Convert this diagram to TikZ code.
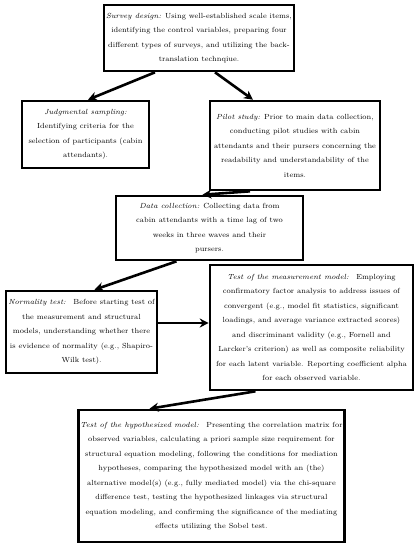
\documentclass[tikz,border=0pt]{standalone}
\usetikzlibrary{arrows.meta}

\begin{document}
\begin{tikzpicture}[x=1pt,y=-1pt,
    stagebox/.style={draw,line width=2.6pt,align=center,inner sep=2pt,
      font=\fontsize{7.4}{14.5}\selectfont},
    flowarrow/.style={-{Stealth[length=9pt,width=9pt]},line width=2.6pt}]

    \useasboundingbox (0,0) rectangle (415,550);

    % the seven stages
    \node [stagebox,minimum width=188,minimum height=66] (survey) at (199,38)
      {\textit{Survey design:} Using well-established scale items,\\
       identifying the control variables, preparing four\\
       different types of surveys, and utilizing the back-\\
       translation technqiue.};
    \node [stagebox,minimum width=127,minimum height=67] (judg) at (85.5,134.5)
      {\textit{Judgmental sampling:}\\
       Identifying criteria for the\\
       selection of participants (cabin\\
       attendants).};
    \node [stagebox,minimum width=170,minimum height=89] (pilot) at (295,145.5)
      {\textit{Pilot study:} Prior to main data collection,\\
       conducting pilot studies with cabin\\
       attendants and their pursers concerning the\\
       readability and understandability of the\\
       items.};
    \node [stagebox,minimum width=187,minimum height=64] (datacoll) at (209.5,228)
      {\textit{Data collection:} Collecting data from\\
       cabin attendants with a time lag of two\\
       weeks in three waves and their\\
       pursers.};
    \node [stagebox,minimum width=151,minimum height=82] (norm) at (81.5,332)
      {\textit{Normality test:}\quad Before starting test of\\
       the measurement and structural\\
       models, understanding whether there\\
       is evidence of normality (e.g., Shapiro-\\
       Wilk test).};
    \node [stagebox,minimum width=203,minimum height=125] (measure) at (311.5,327.5)
      {\textit{Test of the measurement model:}\quad Employing\\
       confirmatory factor analysis to address issues of\\
       convergent (e.g., model fit statistics, significant\\
       loadings, and average variance extracted scores)\\
       and discriminant validity (e.g., Fornell and\\
       Larcker's criterion) as well as composite reliability\\
       for each latent variable. Reporting coefficient alpha\\
       for each observed variable.};
    \node [stagebox,minimum width=247,minimum height=132] (hypo) at (211.5,476)
      {\textit{Test of the hypothesized model:}\quad Presenting the correlation matrix for\\
       observed variables, calculating a priori sample size requirement for\\
       structural equation modeling, following the conditions for mediation\\
       hypotheses, comparing the hypothesized model with an (the)\\
       alternative model(s) (e.g., fully mediated model) via the chi-square\\
       difference test, testing the hypothesized linkages via structural\\
       equation modeling, and confirming the significance of the mediating\\
       effects utilizing the Sobel test.};

    % connectors
    \draw [flowarrow] ([xshift=-44pt]survey.south) -- ([xshift=2.5pt]judg.north);
    \draw [flowarrow] ([xshift=16pt]survey.south) -- ([xshift=-42pt]pilot.north);
    \draw [flowarrow] ([xshift=-45pt]pilot.south) -- ([xshift=-7pt]datacoll.north);
    \draw [flowarrow] ([xshift=-33pt]datacoll.south) -- ([xshift=13pt]norm.north);
    \draw [flowarrow] ([yshift=9pt]norm.east) -- ([yshift=4.5pt]measure.west);
    \draw [flowarrow] ([xshift=-56pt]measure.south) -- ([xshift=-62pt]hypo.north);

\end{tikzpicture}
\end{document}
